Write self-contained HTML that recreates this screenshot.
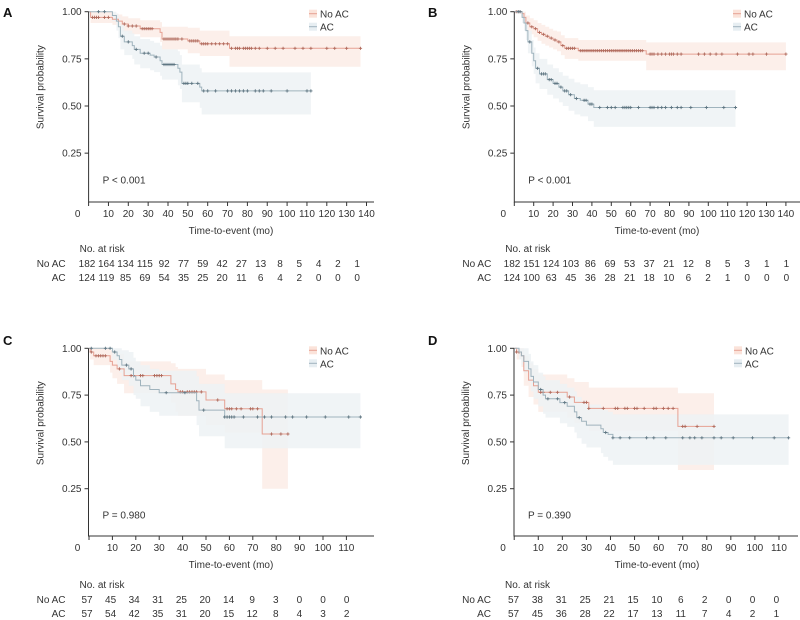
<!DOCTYPE html>
<html><head><meta charset="utf-8">
<style>
html,body{margin:0;padding:0;background:#fff;}
svg{display:block;font-family:"Liberation Sans",Arial,sans-serif;}
</style></head>
<body>
<svg id="chart" width="800" height="620" viewBox="0 0 800 620"></svg>
<script>
// ---------- Panel A data ----------
const aNoT=[0,1,12,15,17,20,26,36,37,50,56,71];
const aNoS=[1,0.97,0.96,0.95,0.935,0.924,0.91,0.89,0.855,0.845,0.83,0.806];
const aNoHi=[1,1,0.99,0.985,0.975,0.965,0.955,0.945,0.92,0.915,0.90,0.87];
const aNoLo=[1,0.94,0.93,0.915,0.895,0.88,0.865,0.84,0.80,0.78,0.765,0.708];
const aNoC=[2,3,4,5,8,10,18,20,22,24,27,28,29,30,31,32,38,39,40,41,42,43,44,45,47,51,52,53,54,55,57,58,59,60,62,64,66,68,70,72,74,75,76,78,79,80,81,82,84,86,90,94,98,104,108,112,120,124,130,137];
const aAcT=[0,12,14,15,16,18,22,23,26,31,33,36,37,45,46,47,56,57];
const aAcS=[1,0.98,0.95,0.92,0.87,0.84,0.82,0.80,0.78,0.77,0.76,0.74,0.72,0.70,0.68,0.62,0.60,0.58];
const aAcHi=[1,1,0.99,0.97,0.93,0.90,0.885,0.87,0.855,0.845,0.835,0.82,0.80,0.79,0.77,0.72,0.70,0.678];
const aAcLo=[1,0.95,0.90,0.86,0.80,0.77,0.75,0.72,0.70,0.69,0.68,0.66,0.64,0.61,0.59,0.52,0.49,0.455];
const aAcC=[5,8,17,20,24,28,30,34,38,39,40,41,42,43,48,49,50,52,55,58,60,64,70,72,74,76,78,80,84,86,88,92,100,110,112];
const aRiskNo=[182,164,134,115,92,77,59,42,27,13,8,5,4,2,1];
const aRiskAc=[124,119,85,69,54,35,25,20,11,6,4,2,0,0,0];
// ---------- Panel B data ----------
const bNoT=[0,4,5,6,8,10,12,14,16,18,20,22,24,26,33,68];
const bNoS=[1,0.99,0.97,0.94,0.92,0.91,0.89,0.88,0.87,0.86,0.85,0.84,0.82,0.806,0.793,0.775];
const bNoHi=[1,1,1,0.98,0.965,0.955,0.94,0.93,0.92,0.91,0.90,0.895,0.875,0.86,0.85,0.837];
const bNoLo=[1,0.97,0.94,0.90,0.88,0.865,0.845,0.83,0.82,0.81,0.80,0.79,0.77,0.75,0.74,0.69];
const bNoC=[1,2,3,7,9,11,13,15,17,19,21,23,25,27,28,29,30,31,34,35,36,37,38,39,40,41,42,43,44,45,46,47,48,49,50,51,52,53,54,55,56,57,58,59,60,61,62,63,64,65,66,70,71,72,74,76,78,80,81,82,84,86,95,98,101,104,107,115,121,123,130,140];
const bAcT=[0,4,5,6,7,9,10,11,13,17,20,23,25,28,31,34,38,41];
const bAcS=[1,0.97,0.94,0.90,0.84,0.78,0.74,0.70,0.67,0.64,0.62,0.60,0.58,0.56,0.54,0.53,0.51,0.492];
const bAcHi=[1,1,0.98,0.95,0.90,0.85,0.81,0.78,0.75,0.72,0.70,0.68,0.66,0.645,0.625,0.615,0.60,0.584];
const bAcLo=[1,0.94,0.90,0.85,0.78,0.71,0.67,0.62,0.59,0.56,0.54,0.52,0.50,0.475,0.455,0.445,0.42,0.389];
const bAcC=[2,3,8,12,14,15,16,18,19,21,22,24,26,27,29,32,36,37,39,40,44,48,50,52,56,57,58,59,60,64,70,71,72,74,76,78,81,84,86,91,99,108,114];
const bRiskNo=[182,151,124,103,86,69,53,37,21,12,8,5,3,1,1];
const bRiskAc=[124,100,63,45,36,28,21,18,10,6,2,1,0,0,0];
// ---------- Panel C data ----------
const cNoT=[0,0.5,2,9,10,12,15,35,37,38,50,58,74];
const cNoS=[1,0.98,0.96,0.93,0.91,0.89,0.854,0.81,0.78,0.767,0.724,0.677,0.542];
const cNoHi=[1,1,1,0.99,0.98,0.97,0.93,0.92,0.90,0.89,0.86,0.83,0.78];
const cNoLo=[1,0.94,0.91,0.87,0.84,0.81,0.76,0.71,0.66,0.64,0.59,0.55,0.25];
const cNoC=[1,3,4,5,6,7,13,18,19,22,23,28,29,30,31,39,40,42,43,44,45,46,48,55,59,60,61,63,65,69,70,72,78,82,85];
const cAcT=[0,10,12,13,14,17,19,20,22,26,30,46,47,58];
const cAcS=[1,0.98,0.96,0.94,0.91,0.89,0.85,0.83,0.80,0.78,0.763,0.72,0.67,0.633];
const cAcHi=[1,1,1,1,0.99,0.98,0.95,0.93,0.91,0.89,0.88,0.85,0.81,0.76];
const cAcLo=[1,0.94,0.90,0.87,0.83,0.80,0.75,0.73,0.69,0.66,0.64,0.59,0.53,0.466];
const cAcC=[1,7,9,11,16,18,33,41,49,58,59,60,61,62,66,72,75,78,84,87,93,101,111,116];
const cRiskNo=[57,45,34,31,25,20,14,9,3,0,0,0];
const cRiskAc=[57,54,42,35,31,20,15,12,8,4,3,2];
// ---------- Panel D data ----------
const dNoT=[0,1,3,4,6,8,10,22,25,31,68];
const dNoS=[1,0.98,0.96,0.88,0.83,0.80,0.765,0.74,0.711,0.679,0.583];
const dNoHi=[1,1,1,0.96,0.92,0.89,0.86,0.84,0.82,0.79,0.76];
const dNoLo=[1,0.94,0.90,0.80,0.74,0.70,0.66,0.63,0.60,0.56,0.35];
const dNoC=[1,2,11,12,15,18,23,29,30,31,37,42,43,46,47,50,51,54,58,59,62,64,66,70,71,76,83];
const dAcT=[0,2,3,4,6,7,8,10,12,13,19,22,25,26,28,30,36,37,39,41];
const dAcS=[1,0.98,0.96,0.93,0.89,0.85,0.82,0.78,0.75,0.73,0.71,0.69,0.66,0.63,0.61,0.59,0.57,0.55,0.54,0.522];
const dAcHi=[1,1,1,1,0.97,0.93,0.91,0.87,0.85,0.83,0.81,0.79,0.77,0.74,0.72,0.70,0.685,0.67,0.66,0.647];
const dAcLo=[1,0.94,0.91,0.87,0.82,0.77,0.73,0.69,0.65,0.63,0.60,0.58,0.55,0.52,0.49,0.47,0.44,0.42,0.40,0.377];
const dAcC=[11,14,18,21,27,38,41,44,48,55,58,63,70,73,75,78,83,86,91,99,108,114];
const dRiskNo=[57,38,31,25,21,15,10,6,2,0,0,0];
const dRiskAc=[57,45,36,28,22,17,13,11,7,4,2,1];
const yTicks=[1.00,0.75,0.50,0.25];

const NS="http://www.w3.org/2000/svg";
const svg=document.getElementById('chart');
function mk(tag,attrs,parent){const e=document.createElementNS(NS,tag);for(const k in attrs)e.setAttribute(k,attrs[k]);(parent||svg).appendChild(e);return e;}
function txt(s,x,y,attrs,parent){const e=mk('text',Object.assign({x:x,y:y,'font-size':10,fill:'#333'},attrs||{}),parent);e.textContent=s;return e;}
function stepAt(T,V,t){let v=V[0];for(let i=0;i<T.length;i++){if(T[i]<=t)v=V[i];}return v;}

function panel(p){
  const g=mk('g',{});
  
  
  const X=t=>p.x0+p.kx*t, Y=s=>p.y0-p.ky*s;
  const L=txt(p.id,p.lx,p.ly,{'font-size':13,'font-weight':'bold',fill:'#111'},g);
  
  
  // bands
  [[p.noT,p.noHi,p.noLo,p.noEnd,'#fbece6','no-ac-ci-band'],[p.acT,p.acHi,p.acLo,p.acEnd,'#edf2f5','ac-ci-band']].forEach(b=>{
    const [T,H,Lo,end,col,nm]=b;let top=[],bot=[];
    for(let i=0;i<T.length;i++){const t1=i+1<T.length?T[i+1]:end;
      top.push([X(T[i]),Y(H[i])],[X(t1),Y(H[i])]);bot.push([X(T[i]),Y(Lo[i])],[X(t1),Y(Lo[i])]);}
    const pts=top.concat(bot.reverse()).map(q=>q[0].toFixed(1)+','+q[1].toFixed(1)).join(' ');
    const pg=mk('polygon',{points:pts,fill:col,opacity:0.85},g);
    
    
  });
  // curves
  [[p.noT,p.noS,p.noC,p.noEnd,'#e6a193','#b06a5c','no-ac-curve'],[p.acT,p.acS,p.acC,p.acEnd,'#9fb3bd','#5f7682','ac-curve']].forEach(c=>{
    const [T,S,C,end,lc,mc,nm]=c;let d='M'+X(T[0]).toFixed(1)+','+Y(S[0]).toFixed(1);
    for(let i=1;i<T.length;i++){d+=' H'+X(T[i]).toFixed(1)+' V'+Y(S[i]).toFixed(1);}
    d+=' H'+X(end).toFixed(1);
    const pa=mk('path',{d:d,fill:'none',stroke:lc,'stroke-width':1},g);
    
    
    C.forEach(t=>{const x=X(t),y=Y(stepAt(T,S,t));
      const m=mk('path',{d:`M${(x-1.6).toFixed(1)},${y.toFixed(1)}h3.2M${x.toFixed(1)},${(y-1.6).toFixed(1)}v3.2`,stroke:mc,'stroke-width':0.9},g);
      
      
    });
  });
  // axes
  const ax=mk('path',{d:`M${p.ax},${Y(1)} V${p.axY} H${p.axEnd}`,fill:'none',stroke:'#333','stroke-width':1},g);
  
  
  yTicks.forEach(v=>{mk('line',{x1:p.ax-4,x2:p.ax,y1:Y(v),y2:Y(v),stroke:'#333'},g);
    const t=txt(v.toFixed(2),p.ax-7,Y(v)+3.5,{'text-anchor':'end'},g);
    
    });
  for(let t=0;t<=p.tmax;t+=10){mk('line',{x1:X(t),x2:X(t),y1:p.axY,y2:p.axY+4,stroke:'#333'},g);
    const tl=txt(String(t),t===0?p.ax-11:X(t),p.axY+15,{'text-anchor':'middle'},g);
    
    }
  const yt=txt('Survival probability',0,0,{'text-anchor':'middle',transform:`translate(${p.ax-45},${Y(0.6)}) rotate(-90)`},g);
  
  
  const xt=txt('Time-to-event (mo)',p.xtx,p.axY+32,{'text-anchor':'middle'},g);
  
  
  const pv=txt(p.pval,p.ax+14,Y(0.09),{},g);
  
  
  // legend
  [['No AC','#fbe3da','#e6a193',0],['AC','#e7eef2','#9fb3bd',13]].forEach(l=>{
    const sw=mk('rect',{x:p.legX,y:Y(1)-2+l[3],width:8,height:8,fill:l[1]},g);
    
    
    mk('line',{x1:p.legX,x2:p.legX+8,y1:Y(1)+2+l[3],y2:Y(1)+2+l[3],stroke:l[2]},g);
    const lt=txt(l[0],p.legX+11,Y(1)+6+l[3],{},g);
    
    
  });
  // risk table
  const rh=txt('No. at risk',p.ax-9,p.ry,{},g);
  
  
  [['No AC',p.rNo,15],['AC',p.rAc,29]].forEach(r=>{
    const rl=txt(r[0],p.ax-23,p.ry+r[2],{'text-anchor':'end'},g);
    
    
    r[1].forEach((v,i)=>{const c=txt(String(v),p.rx0+i*p.rdx,p.ry+r[2],{'text-anchor':'middle'},g);
      
      });
  });
}

panel({id:'A',lx:3,ly:17,x0:88.6,kx:1.985,y0:200.3,ky:188.6,ax:88.6,axY:202,axEnd:374,tmax:140,xtx:231,pval:'P < 0.001',legX:309,
  noT:aNoT,noS:aNoS,noHi:aNoHi,noLo:aNoLo,noC:aNoC,noEnd:137,acT:aAcT,acS:aAcS,acHi:aAcHi,acLo:aAcLo,acC:aAcC,acEnd:112,
  ry:252,rNo:aRiskNo,rAc:aRiskAc,rx0:87,rdx:19.3});
panel({id:'B',lx:428,ly:17,x0:514.3,kx:1.94,y0:200.3,ky:188.6,ax:514.3,axY:202,axEnd:800,tmax:140,xtx:657,pval:'P < 0.001',legX:733,
  noT:bNoT,noS:bNoS,noHi:bNoHi,noLo:bNoLo,noC:bNoC,noEnd:140,acT:bAcT,acS:bAcS,acHi:bAcHi,acLo:bAcLo,acC:bAcC,acEnd:114,
  ry:252,rNo:bRiskNo,rAc:bRiskAc,rx0:512,rdx:19.6});
panel({id:'C',lx:3,ly:345,x0:89,kx:2.34,y0:535.5,ky:187.2,ax:88.5,axY:536,axEnd:374,tmax:110,xtx:231,pval:'P = 0.980',legX:309,
  noT:cNoT,noS:cNoS,noHi:cNoHi,noLo:cNoLo,noC:cNoC,noEnd:85,acT:cAcT,acS:cAcS,acHi:cAcHi,acLo:cAcLo,acC:cAcC,acEnd:116,
  ry:588,rNo:cRiskNo,rAc:cRiskAc,rx0:87,rdx:23.6});
panel({id:'D',lx:428,ly:345,x0:514.2,kx:2.407,y0:535.5,ky:187.2,ax:514,axY:536,axEnd:798,tmax:110,xtx:657,pval:'P = 0.390',legX:734,
  noT:dNoT,noS:dNoS,noHi:dNoHi,noLo:dNoLo,noC:dNoC,noEnd:83,acT:dAcT,acS:dAcS,acHi:dAcHi,acLo:dAcLo,acC:dAcC,acEnd:114,
  ry:588,rNo:dRiskNo,rAc:dRiskAc,rx0:513.5,rdx:23.9});
</script>
</body></html>
